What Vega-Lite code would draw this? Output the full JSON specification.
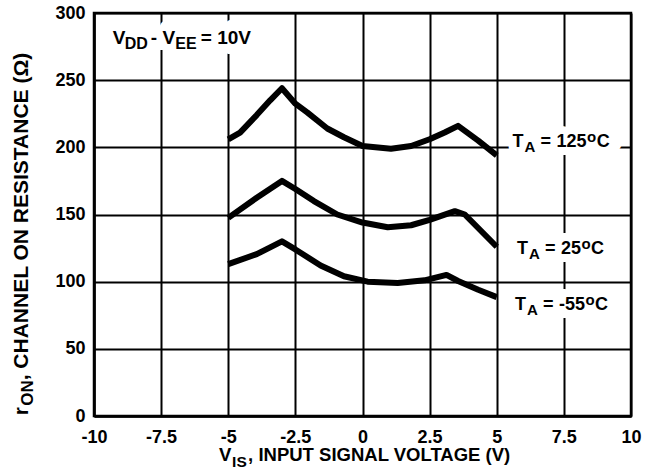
{
  "$schema": "https://vega.github.io/schema/vega-lite/v6.json",
  "width": 537,
  "height": 403,
  "autosize": {"type": "none"},
  "padding": {"left": 94, "top": 13, "right": 27, "bottom": 59},
  "background": "white",
  "config": {
    "view": {"stroke": "black", "strokeWidth": 2.5},
    "axis": {
      "labelFont": "Liberation Sans",
      "labelFontWeight": "bold",
      "labelFontSize": 18,
      "labelColor": "black",
      "domainColor": "black",
      "domainWidth": 2.5,
      "gridColor": "black",
      "gridWidth": 2,
      "gridOpacity": 1,
      "ticks": false,
      "labelFlush": false,
      "labelOverlap": false
    },
    "text": {"font": "Liberation Sans", "fontWeight": "bold", "fontSize": 18, "fill": "black"}
  },
  "datasets": {
    "curves": [
      {"series": "125", "x": -5, "y": 206},
      {"series": "125", "x": -4.56, "y": 211},
      {"series": "125", "x": -3.94, "y": 224},
      {"series": "125", "x": -3.44, "y": 235},
      {"series": "125", "x": -3.0, "y": 244},
      {"series": "125", "x": -2.5, "y": 232.5},
      {"series": "125", "x": -2.06, "y": 226},
      {"series": "125", "x": -1.31, "y": 214},
      {"series": "125", "x": -0.69, "y": 207.5},
      {"series": "125", "x": 0, "y": 201},
      {"series": "125", "x": 1.06, "y": 199},
      {"series": "125", "x": 1.81, "y": 201},
      {"series": "125", "x": 2.5, "y": 206},
      {"series": "125", "x": 3.06, "y": 211},
      {"series": "125", "x": 3.56, "y": 216},
      {"series": "125", "x": 4.31, "y": 205},
      {"series": "125", "x": 5, "y": 194},
      {"series": "25", "x": -5, "y": 147.5},
      {"series": "25", "x": -3.94, "y": 162.5},
      {"series": "25", "x": -3.0, "y": 175},
      {"series": "25", "x": -2.5, "y": 169},
      {"series": "25", "x": -1.81, "y": 160},
      {"series": "25", "x": -0.94, "y": 150},
      {"series": "25", "x": 0, "y": 144},
      {"series": "25", "x": 0.94, "y": 140.5},
      {"series": "25", "x": 1.81, "y": 142},
      {"series": "25", "x": 2.5, "y": 146},
      {"series": "25", "x": 3.44, "y": 152.5},
      {"series": "25", "x": 3.81, "y": 150},
      {"series": "25", "x": 5, "y": 126},
      {"series": "-55", "x": -5, "y": 113},
      {"series": "-55", "x": -3.94, "y": 120.5},
      {"series": "-55", "x": -3.44, "y": 125.5},
      {"series": "-55", "x": -3.0, "y": 130},
      {"series": "-55", "x": -2.5, "y": 124},
      {"series": "-55", "x": -1.56, "y": 112},
      {"series": "-55", "x": -0.69, "y": 104},
      {"series": "-55", "x": 0.19, "y": 100},
      {"series": "-55", "x": 1.31, "y": 99},
      {"series": "-55", "x": 2.31, "y": 101},
      {"series": "-55", "x": 3.13, "y": 105},
      {"series": "-55", "x": 3.56, "y": 100.5},
      {"series": "-55", "x": 4.31, "y": 94},
      {"series": "-55", "x": 5, "y": 88.5}
    ],
    "temps": [
      {"temp": "125", "label": "125\u00a0\u00a0C", "x": 5.59, "y": 200},
      {"temp": "25", "label": "25\u00a0\u00a0C", "x": 5.75, "y": 120.6},
      {"temp": "-55", "label": "-55\u00a0\u00a0C", "x": 5.68, "y": 79}
    ],
    "note": [{"x": -9.3, "y": 277}],
    "xtitle": [{"x": -5.34, "y": -33.3}],
    "ytitle": [{"x": -12.44, "y": 0.5}]
  },
  "encoding": {
    "x": {
      "field": "x",
      "type": "quantitative",
      "scale": {"domain": [-10, 10], "nice": false, "zero": false},
      "axis": {"values": [-10, -7.5, -5, -2.5, 0, 2.5, 5, 7.5, 10], "title": null, "labelPadding": 12, "labelExpr": "'' + datum.value"}
    },
    "y": {
      "field": "y",
      "type": "quantitative",
      "scale": {"domain": [0, 300], "nice": false},
      "axis": {"values": [0, 50, 100, 150, 200, 250, 300], "title": null, "labelPadding": 9}
    }
  },
  "layer": [
    {
      "data": {"name": "temps"},
      "mark": {"type": "text", "text": "TA = 125 oC", "align": "left", "baseline": "alphabetic", "fill": "white", "stroke": "white", "strokeWidth": 16, "strokeJoin": "round"}
    },
    {
      "data": {"name": "note"},
      "mark": {"type": "text", "text": "VDD - VEE = 10V", "align": "left", "baseline": "alphabetic", "fontSize": 19, "dy": -1, "fill": "white", "stroke": "white", "strokeWidth": 22, "strokeJoin": "round"}
    },
    {
      "data": {"name": "curves"},
      "mark": {"type": "line", "stroke": "black", "strokeWidth": 6, "strokeJoin": "round", "strokeCap": "butt"},
      "encoding": {"detail": {"field": "series"}}
    },
    {
      "data": {"name": "temps"},
      "mark": {"type": "text", "text": "T", "align": "left", "baseline": "alphabetic"}
    },
    {
      "data": {"name": "temps"},
      "mark": {"type": "text", "text": "A", "align": "left", "baseline": "alphabetic", "fontSize": 15, "dx": 12, "dy": 5}
    },
    {
      "data": {"name": "temps"},
      "mark": {"type": "text", "text": "=", "align": "left", "baseline": "alphabetic", "dx": 28}
    },
    {
      "data": {"name": "temps"},
      "mark": {"type": "text", "align": "left", "baseline": "alphabetic", "dx": 44},
      "encoding": {"text": {"field": "label"}}
    },
    {
      "data": {"name": "temps"},
      "transform": [{"filter": "datum.temp == '125'"}],
      "mark": {"type": "text", "text": "o", "align": "left", "baseline": "alphabetic", "fontSize": 15, "dx": 74.5, "dy": -5}
    },
    {
      "data": {"name": "temps"},
      "transform": [{"filter": "datum.temp == '25'"}],
      "mark": {"type": "text", "text": "o", "align": "left", "baseline": "alphabetic", "fontSize": 15, "dx": 64.5, "dy": -5}
    },
    {
      "data": {"name": "temps"},
      "transform": [{"filter": "datum.temp == '-55'"}],
      "mark": {"type": "text", "text": "o", "align": "left", "baseline": "alphabetic", "fontSize": 15, "dx": 70.5, "dy": -5}
    },
    {
      "data": {"name": "note"},
      "mark": {"type": "text", "text": "V", "align": "left", "baseline": "alphabetic", "fontSize": 19}
    },
    {
      "data": {"name": "note"},
      "mark": {"type": "text", "text": "DD", "align": "left", "baseline": "alphabetic", "fontSize": 16, "dx": 12, "dy": 5}
    },
    {
      "data": {"name": "note"},
      "mark": {"type": "text", "text": "- V", "align": "left", "baseline": "alphabetic", "fontSize": 19, "dx": 38}
    },
    {
      "data": {"name": "note"},
      "mark": {"type": "text", "text": "EE", "align": "left", "baseline": "alphabetic", "fontSize": 16, "dx": 62.5, "dy": 5}
    },
    {
      "data": {"name": "note"},
      "mark": {"type": "text", "text": "= 10V", "align": "left", "baseline": "alphabetic", "fontSize": 19, "dx": 88}
    },
    {
      "data": {"name": "xtitle"},
      "mark": {"type": "text", "text": "V", "align": "left", "baseline": "alphabetic", "fontSize": 18.5}
    },
    {
      "data": {"name": "xtitle"},
      "mark": {"type": "text", "text": "IS", "align": "left", "baseline": "alphabetic", "fontSize": 15.5, "dx": 13, "dy": 6}
    },
    {
      "data": {"name": "xtitle"},
      "mark": {"type": "text", "text": ", INPUT SIGNAL VOLTAGE (V)", "align": "left", "baseline": "alphabetic", "fontSize": 18.5, "dx": 29}
    },
    {
      "data": {"name": "ytitle"},
      "mark": {"type": "text", "text": "r", "align": "left", "baseline": "alphabetic", "angle": 270, "fontSize": 21}
    },
    {
      "data": {"name": "ytitle"},
      "mark": {"type": "text", "text": "ON", "align": "left", "baseline": "alphabetic", "angle": 270, "fontSize": 17, "dx": 9.5, "dy": 5}
    },
    {
      "data": {"name": "ytitle"},
      "mark": {"type": "text", "text": ", CHANNEL ON RESISTANCE (Ω)", "align": "left", "baseline": "alphabetic", "angle": 270, "fontSize": 21, "dx": 35}
    }
  ]
}
